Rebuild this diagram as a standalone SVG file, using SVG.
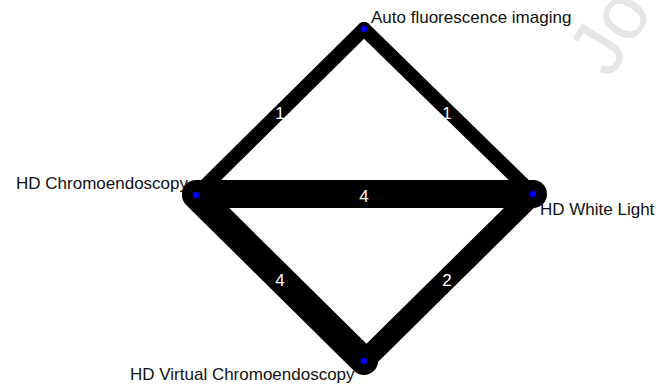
<svg xmlns="http://www.w3.org/2000/svg" width="660" height="388" viewBox="0 0 660 388">
  <style>
    .edge { stroke: #000; stroke-linecap: round; fill: none; }
    .elabel { font-family: "Liberation Sans", Arial, sans-serif; font-size: 17px; fill: #fff; text-anchor: middle; }
    .nlabel { font-family: "Liberation Sans", Arial, sans-serif; font-size: 17px; fill: #111; }
    .dot { fill: #0000ff; }
    .mark { font-family: "Liberation Sans", Arial, sans-serif; font-size: 78px; fill: #e6e6e6; }
  </style>
  <rect width="660" height="388" fill="#fff"/>

  <!-- faint background lettering, running off the top-right corner -->
  <text class="mark" transform="translate(610 80) rotate(-58)">Jo</text>

  <g id="connectors">
    <line class="edge" x1="364" y1="29" x2="196" y2="195" stroke-width="14"/>
    <line class="edge" x1="364" y1="29" x2="533" y2="194" stroke-width="14"/>
    <line class="edge" x1="364" y1="361" x2="533" y2="194" stroke-width="21"/>
    <line class="edge" x1="196" y1="195" x2="364" y2="361" stroke-width="28"/>
    <line class="edge" x1="196" y1="194" x2="533" y2="194" stroke-width="28"/>
    <text class="elabel" x="280" y="119">1</text>
    <text class="elabel" x="447" y="119">1</text>
    <text class="elabel" x="364" y="202">4</text>
    <text class="elabel" x="280" y="286">4</text>
    <text class="elabel" x="447" y="286">2</text>
  </g>

  <g id="afi">
    <circle class="dot" cx="364" cy="29" r="3.2"/>
    <text class="nlabel" x="371" y="23">Auto fluorescence imaging</text>
  </g>
  <g id="hdc">
    <circle class="dot" cx="196" cy="195" r="3.2"/>
    <text class="nlabel" x="188" y="189" text-anchor="end">HD Chromoendoscopy</text>
  </g>
  <g id="hdwl">
    <circle class="dot" cx="533" cy="194" r="3.2"/>
    <text class="nlabel" x="540" y="215">HD White Light</text>
  </g>
  <g id="hdvc">
    <circle class="dot" cx="364" cy="361" r="3.2"/>
    <text class="nlabel" x="130" y="380">HD Virtual Chromoendoscopy</text>
  </g>
</svg>
